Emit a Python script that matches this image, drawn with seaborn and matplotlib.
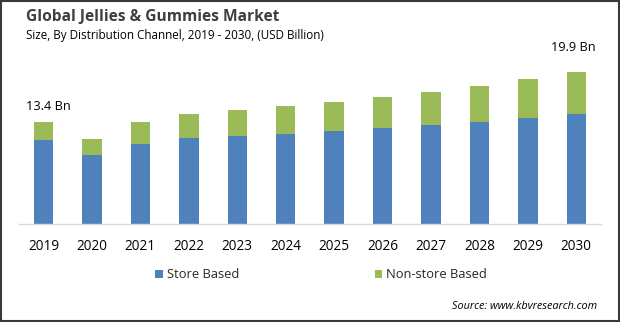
import matplotlib
matplotlib.use("Agg")
import matplotlib.pyplot as plt
import seaborn as sns
import pandas as pd
from matplotlib.patches import Rectangle, Patch

years = ["2019", "2020", "2021", "2022", "2023", "2024", "2025", "2026", "2027", "2028", "2029", "2030"]
store_based = [11.05, 9.08, 10.52, 11.31, 11.57, 11.83, 12.23, 12.62, 13.01, 13.41, 13.93, 14.40]
non_store_based = [2.35, 2.10, 2.88, 3.15, 3.41, 3.67, 3.80, 4.06, 4.33, 4.72, 5.11, 5.50]
first_label = "13.4 Bn"
last_label = "19.9 Bn"

BLUE = "#4F81BD"
GREEN = "#9BBB59"

sns.set_style("white")
plt.rcParams['font.family'] = ['Open Sans', 'DejaVu Sans']

df = pd.DataFrame({
    "year": years,
    "store": store_based,
    "nonstore": non_store_based,
})
df["total"] = df["store"] + df["nonstore"]

fig = plt.figure(figsize=(6.2, 3.22), dpi=100)
ax = fig.add_axes([19.3 / 620, 97.8 / 322, 581.2 / 620, 184.3 / 322])

sns.barplot(data=df, x="year", y="total", color=GREEN, width=0.40, ax=ax,
            saturation=1, edgecolor="none", linewidth=0)
sns.barplot(data=df, x="year", y="store", color=BLUE, width=0.40, ax=ax,
            saturation=1, edgecolor="none", linewidth=0)

ax.set_xlim(-0.5, 11.5)
ax.set_ylim(0, 24.15)
ax.set_xlabel("")
ax.set_ylabel("")
ax.set_yticks([])
for s in ["top", "left", "right"]:
    ax.spines[s].set_visible(False)
ax.spines["bottom"].set_color("#D9D9D9")
ax.spines["bottom"].set_linewidth(1.0)
ax.tick_params(axis="x", length=0, pad=10.5, labelsize=9.8, labelcolor="#000000")

ax.text(-0.36, df["total"].iloc[0] + 2.07, first_label, ha="left", va="center",
        fontsize=9.2, color="#000000")
ax.text(11.39, df["total"].iloc[-1] + 3.26, last_label, ha="right", va="center",
        fontsize=9.2, color="#000000")

fig.text(26 / 620, 1 - 17 / 322, "Global Jellies & Gummies Market", fontsize=11.2,
         fontweight="bold", color="#3F3F3F", ha="left", va="center")
fig.text(26 / 620, 1 - 36 / 322, "Size, By Distribution Channel, 2019 - 2030, (USD Billion)",
         fontsize=8.4, color="#000000", ha="left", va="center")

handles = [Patch(facecolor=BLUE, edgecolor="none", label="Store Based"),
           Patch(facecolor=GREEN, edgecolor="none", label="Non-store Based")]
fig.legend(handles=handles, loc="center", bbox_to_anchor=(321 / 620, 1 - 274.7 / 322),
           ncol=2, frameon=False, fontsize=9.3, handlelength=0.6, handleheight=0.6,
           handletextpad=0.3, columnspacing=10.5)

fig.text(597 / 620, 1 - 306.7 / 322, "Source: www.kbvresearch.com", fontsize=7.8,
         style="italic", color="#000000", ha="right", va="center")

fig.patches.append(Rectangle((0.001, 0.002), 0.997, 0.995, transform=fig.transFigure,
                             fill=False, edgecolor="#3A3A3A", linewidth=1.5))

fig.savefig("out.png", dpi=100)
